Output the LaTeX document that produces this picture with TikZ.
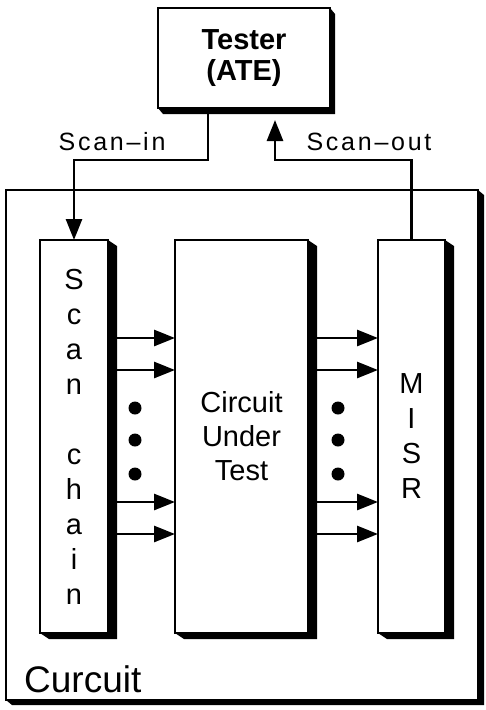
\documentclass[tikz,border=0pt]{standalone}
\usepackage{fontspec}
\setmainfont{Liberation Sans}
\usetikzlibrary{arrows.meta,calc}
\tikzset{
  blk/.style={draw, line width=2.8pt, fill=white, inner sep=0pt, outer sep=0pt, align=center},
  arr/.style={line width=2.8pt, -{Triangle[length=21pt,width=16pt]}},
  dotc/.style={circle, fill=black, inner sep=0pt, minimum size=13pt},
  blkfont/.style={font=\fontsize{29}{35}\selectfont},
  lbl/.style={font=\fontsize{25}{30}\selectfont\addfontfeature{LetterSpace=11}, inner sep=0pt, anchor=base},
}
\newcommand{\boxshadow}[3]{%
  \fill[black] (#1.north east) -- ([shift={(#2pt,-#3pt)}]#1.north east)
    -- ([shift={(#2pt,-#3pt)}]#1.south east) -- ([shift={(#2pt,-#3pt)}]#1.south west)
    -- (#1.south west) -- (#1.south east) -- cycle;}
\begin{document}
\begin{tikzpicture}[x=1pt,y=-1pt]
\useasboundingbox (0,0) rectangle (485,710);
% outer circuit
\node[blk, minimum width=472pt, minimum height=510pt] (circ) at (242,445) {};
\boxshadow{circ}{6}{5}
\node[inner sep=0pt, anchor=base west, font=\fontsize{37}{42}\selectfont] (circlbl) at (24,692) {Curcuit};
% tester
\node[blk, minimum width=172pt, minimum height=100pt, font=\fontsize{29}{31}\selectfont\bfseries] (tester) at (244,58) {Tester\\(ATE)};
\boxshadow{tester}{5}{6}
% blocks
\node[blk, blkfont, minimum width=68pt, minimum height=393pt] (sc) at (74,436.5) {S\\c\\a\\n\\\mbox{}\\c\\h\\a\\i\\n};
\boxshadow{sc}{9}{6}
\node[blk, minimum width=133pt, minimum height=393pt, font=\fontsize{29}{34}\selectfont] (cut) at (241.5,436.5) {Circuit\\Under\\Test};
\boxshadow{cut}{9}{6}
\node[blk, blkfont, minimum width=67pt, minimum height=393pt] (misr) at (411.5,436.5) {M\\I\\S\\R};
\boxshadow{misr}{9}{6}
% scan-in / scan-out
\draw[arr] ([xshift=-36pt]tester.south) -- ++(0,52) -| (sc.north);
\draw[arr] (misr.north) -- ++(0,-80) -| ([xshift=31pt,yshift=-12pt]tester.south);
\node[lbl] (sin) at (112,150) {Scan–in};
\node[lbl] (sout) at (369,150) {Scan–out};
% parallel arrows
\foreach \yy in {338,370,502,534}{
  \draw[arr] (sc.east |- 0,\yy) -- (cut.west |- 0,\yy);
  \draw[arr] (cut.east |- 0,\yy) -- (misr.west |- 0,\yy);
}
% dots
\foreach \yy/\nm in {408/a,440/b,474/c}{
  \node[dotc] (dl\nm) at (135,\yy) {};
  \node[dotc] (dr\nm) at (338,\yy) {};
}
\end{tikzpicture}
\end{document}
